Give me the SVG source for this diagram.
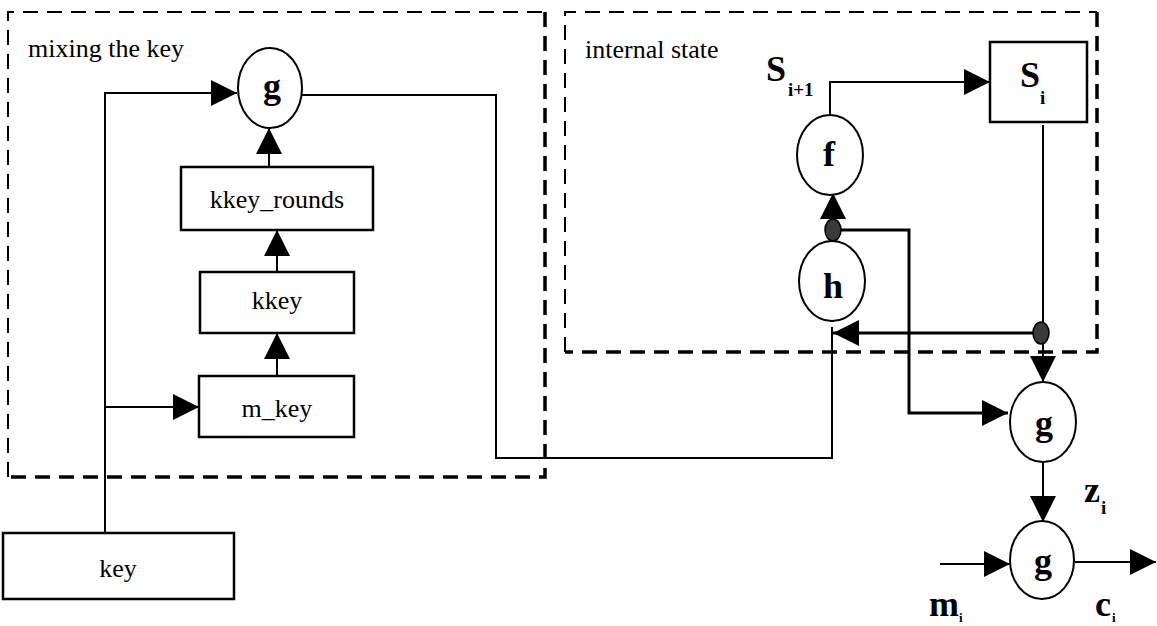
<svg xmlns="http://www.w3.org/2000/svg" width="1157" height="626" viewBox="0 0 1157 626">
  <style>
    .box { fill: #ffffff; stroke: #000; stroke-width: 2.5; }
    .op { fill: #ffffff; stroke: #000; stroke-width: 2; }
    .txt { font-family: "Liberation Serif", "Times New Roman", serif; font-size: 26px; fill: #000; }
    .big { font-family: "Liberation Serif", "Times New Roman", serif; font-size: 36px; font-weight: bold; fill: #000; }
    .sub { font-family: "Liberation Serif", "Times New Roman", serif; font-size: 19px; font-weight: bold; fill: #000; }
    .tiny { font-family: "Liberation Serif", "Times New Roman", serif; font-size: 13px; font-weight: bold; fill: #000; }
    .dash { fill: none; stroke: #000; stroke-dasharray: 15 9; }
    .thin { stroke-width: 2; }
    .thick { stroke-width: 3.5; }
    .wire { fill: none; stroke: #000; stroke-width: 2; }
    .heavy { fill: none; stroke: #000; stroke-width: 3; }
    .arrow { marker-end: url(#head); }
    .junction { fill: #3a3a3a; stroke: #000; stroke-width: 1.5; }
  </style>
  <defs>
    <marker id="head" markerUnits="userSpaceOnUse" markerWidth="28" markerHeight="28" refX="26" refY="13" orient="auto">
      <path d="M0,0 L26,13 L0,26 Z" fill="#000"/>
    </marker>
  </defs>

  <rect width="1157" height="626" fill="#ffffff"/>

  <!-- dashed region: key mixing -->
  <g id="mixing-region">
    <path class="dash thin" d="M8,477 V12 H545"/>
    <path class="dash thick" d="M545,12 V477 H8"/>
    <text class="txt" x="28" y="57">mixing the key</text>
  </g>

  <!-- dashed region: internal state -->
  <g id="state-region">
    <path class="dash thin" d="M565,352 V12 H1097"/>
    <path class="dash thick" d="M1097,12 V352 H565"/>
    <text class="txt" x="585" y="58">internal state</text>
  </g>

  <!-- connectors -->
  <g id="connectors">
    <path class="wire arrow" d="M105,533 V93 H237"/>
    <path class="wire arrow" d="M105,407 H199"/>
    <path class="wire arrow" d="M277,376 V333"/>
    <path class="wire arrow" d="M277,272 V230"/>
    <path class="wire arrow" d="M269,167 V128"/>
    <path class="wire" d="M302,95 H496 V458 H832 V327"/>
    <path class="wire arrow" d="M830,115 V82 H990"/>
    <path class="wire arrow" d="M833,230 V193"/>
    <path class="wire arrow" d="M1043,125 V382"/>
    <path class="heavy arrow" d="M1040,333 H833"/>
    <path class="heavy arrow" d="M833,230 H909 V413 H1008"/>
    <path class="wire arrow" d="M1043,462 V522"/>
    <path class="wire arrow" d="M940,564 H1010"/>
    <path class="wire arrow" d="M1075,562 H1156"/>
    <ellipse class="junction" cx="833" cy="230" rx="8" ry="11"/>
    <ellipse class="junction" cx="1041" cy="333" rx="8" ry="11"/>
  </g>

  <g id="g-mix">
    <ellipse class="op" cx="270" cy="88" rx="32" ry="40"/>
    <text class="big" x="272" y="98" text-anchor="middle">g</text>
  </g>

  <g id="kkey-rounds">
    <rect class="box" x="181" y="167" width="192" height="63"/>
    <text class="txt" x="277" y="208" text-anchor="middle">kkey_rounds</text>
  </g>

  <g id="kkey">
    <rect class="box" x="200" y="272" width="154" height="61"/>
    <text class="txt" x="277" y="309" text-anchor="middle">kkey</text>
  </g>

  <g id="m-key">
    <rect class="box" x="199" y="376" width="155" height="61"/>
    <text class="txt" x="277" y="417" text-anchor="middle">m_key</text>
  </g>

  <g id="key">
    <rect class="box" x="3" y="533" width="231" height="66"/>
    <text class="txt" x="118" y="577" text-anchor="middle">key</text>
  </g>

  <g id="f">
    <ellipse class="op" cx="830" cy="155" rx="33" ry="40"/>
    <text class="big" x="829" y="166" text-anchor="middle">f</text>
  </g>

  <g id="h">
    <ellipse class="op" cx="832" cy="281" rx="33" ry="40"/>
    <text class="big" x="833" y="298" text-anchor="middle">h</text>
  </g>

  <g id="s-next-label">
    <text class="big" x="766" y="81">S</text>
    <text class="sub" x="788" y="96">i+1</text>
  </g>

  <g id="s-i">
    <rect class="box" x="990" y="42" width="97" height="80"/>
    <text class="big" x="1020" y="87">S</text>
    <text class="sub" x="1040" y="104">i</text>
  </g>

  <g id="g-key">
    <ellipse class="op" cx="1043" cy="422" rx="33" ry="40"/>
    <text class="big" x="1044" y="435" text-anchor="middle">g</text>
  </g>

  <g id="z-label">
    <text class="big" x="1084" y="502">z</text>
    <text class="sub" x="1101" y="514">i</text>
  </g>

  <g id="g-out">
    <ellipse class="op" cx="1042" cy="560" rx="32" ry="39"/>
    <text class="big" x="1043" y="573" text-anchor="middle">g</text>
  </g>

  <g id="m-label">
    <text class="big" x="929" y="616">m</text>
    <text class="tiny" x="959" y="622">i</text>
  </g>

  <g id="c-label">
    <text class="big" x="1095" y="616">c</text>
    <text class="tiny" x="1112" y="622">i</text>
  </g>
</svg>
